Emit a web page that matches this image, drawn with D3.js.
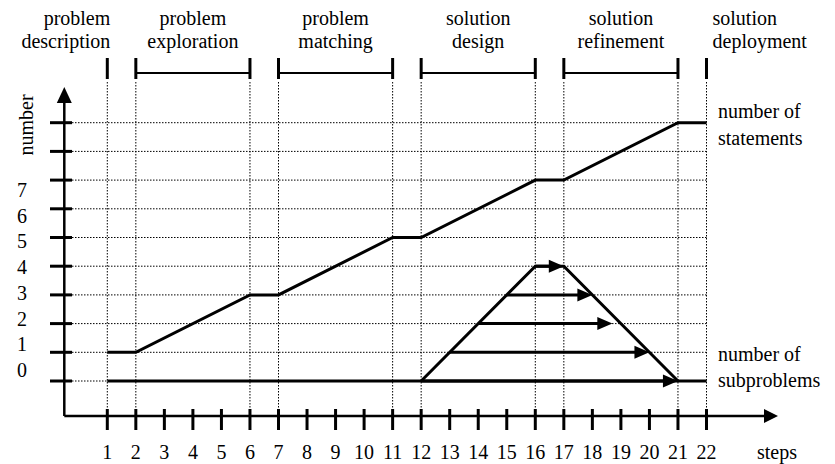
<!DOCTYPE html>
<html>
<head>
<meta charset="utf-8">
<script src="https://cdn.jsdelivr.net/npm/d3@7"></script>
<style>
  html, body { margin: 0; padding: 0; background: #fff; }
  svg { display: block; }
  text { font-family: "Liberation Serif", "Times New Roman", serif; fill: #000; }
</style>
</head>
<body>
<svg id="chart" width="835" height="464"></svg>
<script>
// ---- data ----
const steps = [1,2,3,4,5,6,7,8,9,10,11,12,13,14,15,16,17,18,19,20,21,22];
const yTicks = [0,1,2,3,4,5,6,7,8,9];
const yTickLabels = ["0","1","2","3","4","5","6","7"];
const gridSteps = [1,2,6,7,11,12,16,17,21,22];

const statementSteps  = [1,2,6,7,11,12,16,17,21,22];
const statementValues = [1,1,3,3,5,5,7,7,9,9];

const baseSteps  = [1,22];
const baseValues = [0,0];

const subSteps  = [12,16,17,21];
const subValues = [0,4,4,0];

const arrowLevels = [0,1,2,3,4];
const arrowFrom   = [12,13,14,15,16];
const arrowTo     = [21,20,18.7,18,17];

const phaseLine1 = ["problem","problem","problem","solution","solution","solution"];
const phaseLine2 = ["description","exploration","matching","design","refinement","deployment"];
const phaseFrom  = [1,2,7,12,17,22];
const phaseTo    = [1,6,11,16,21,22];

const seriesLabels = [["number of","statements"],["number of","subproblems"]];

// ---- layout ----
const svg = d3.select("#chart");
const x = d3.scaleLinear().domain([1,22]).range([107.3,706.5]);
const y = d3.scaleLinear().domain([0,9]).range([381,122.7]);
const yLab = d3.scaleLinear().domain([0,7]).range([370,190]);
const axisX = 64.3, axisY = 416;

// grid (dotted)
const grid = svg.append("g").attr("stroke","#000").attr("stroke-width",1).attr("stroke-dasharray","1.5,1.5");
grid.selectAll("line.h").data(yTicks).join("line").attr("class","h")
  .attr("x1",72).attr("x2",x(22)).attr("y1",d=>y(d)).attr("y2",d=>y(d));
grid.selectAll("line.v").data(gridSteps).join("line").attr("class","v")
  .attr("x1",d=>x(d)).attr("x2",d=>x(d)).attr("y1",82).attr("y2",axisY);

// axes
const ax = svg.append("g").attr("stroke","#000").attr("stroke-width",2.5);
ax.append("line").attr("x1",axisX).attr("x2",766).attr("y1",axisY).attr("y2",axisY);
ax.append("line").attr("x1",axisX).attr("x2",axisX).attr("y1",axisY).attr("y2",100);
svg.append("path").attr("d",`M778,${axisY} L764,${axisY-7} L764,${axisY+7} Z`).attr("fill","#000");
svg.append("path").attr("d",`M${axisX},87 L${axisX-7.5},103 L${axisX+7.5},103 Z`).attr("fill","#000");

// ticks
const tk = svg.append("g").attr("stroke","#000").attr("stroke-width",3);
tk.selectAll("line.xt").data(steps).join("line").attr("class","xt")
  .attr("x1",d=>x(d)).attr("x2",d=>x(d)).attr("y1",409).attr("y2",430);
tk.selectAll("line.yt").data(yTicks).join("line").attr("class","yt")
  .attr("x1",50).attr("x2",72).attr("y1",d=>y(d)).attr("y2",d=>y(d));

// tick labels
svg.append("g").selectAll("text").data(steps).join("text")
  .attr("x",d=>x(d)).attr("y",459).attr("text-anchor","middle").attr("font-size",20).text(d=>d);
svg.append("g").selectAll("text").data(yTickLabels).join("text")
  .attr("x",22).attr("y",(d,i)=>yLab(i)+7).attr("text-anchor","middle").attr("font-size",20).text(d=>d);

svg.append("text").attr("x",757).attr("y",459).attr("font-size",20).text("steps");
svg.append("text").attr("transform","translate(33,125) rotate(-90)").attr("text-anchor","middle")
  .attr("font-size",20).text("number");

// data lines
const line = d3.line().x(d=>x(d[0])).y(d=>y(d[1]));
const toPts = (s,v)=>s.map((d,i)=>[d,v[i]]);
const lines = svg.append("g").attr("fill","none").attr("stroke","#000").attr("stroke-width",3).attr("stroke-linejoin","miter");
lines.append("path").attr("d",line(toPts(statementSteps,statementValues)));
lines.append("path").attr("d",line(toPts(baseSteps,baseValues)));
lines.append("path").attr("d",line(toPts(subSteps,subValues)));

// arrows
const arr = svg.append("g");
arrowLevels.forEach((lv,i)=>{
  const x1 = x(arrowFrom[i]), x2 = x(arrowTo[i]), yy = y(lv);
  arr.append("line").attr("x1",x1).attr("x2",x2-12).attr("y1",yy).attr("y2",yy)
    .attr("stroke","#000").attr("stroke-width",3);
  arr.append("path").attr("d",`M${x2},${yy} L${x2-15},${yy-6.5} L${x2-15},${yy+6.5} Z`).attr("fill","#000");
});

// phase brackets
const br = svg.append("g").attr("stroke","#000");
phaseFrom.forEach((f,i)=>{
  const t = phaseTo[i];
  br.append("line").attr("x1",x(f)).attr("x2",x(f)).attr("y1",58).attr("y2",79).attr("stroke-width",3);
  if (t !== f) {
    br.append("line").attr("x1",x(t)).attr("x2",x(t)).attr("y1",58).attr("y2",79).attr("stroke-width",3);
    br.append("line").attr("x1",x(f)).attr("x2",x(t)).attr("y1",73).attr("y2",73).attr("stroke-width",2);
  }
  let tx, anchor;
  if (t === f && i === 0) { tx = x(f)+3; anchor = "end"; }
  else if (t === f) { tx = x(f)+6; anchor = "start"; }
  else { tx = (x(f)+x(t))/2; anchor = "middle"; }
  const g = svg.append("text").attr("text-anchor",anchor).attr("font-size",20);
  g.append("tspan").attr("x",tx).attr("y",25).text(phaseLine1[i]);
  g.append("tspan").attr("x",tx).attr("y",48).text(phaseLine2[i]);
});

// series labels
const labY = [[118,145],[361,387]];
seriesLabels.forEach((lbl,i)=>{
  const t = svg.append("text").attr("font-size",20);
  lbl.forEach((s,j)=>t.append("tspan").attr("x",718).attr("y",labY[i][j]).text(s));
});
</script>
</body>
</html>
